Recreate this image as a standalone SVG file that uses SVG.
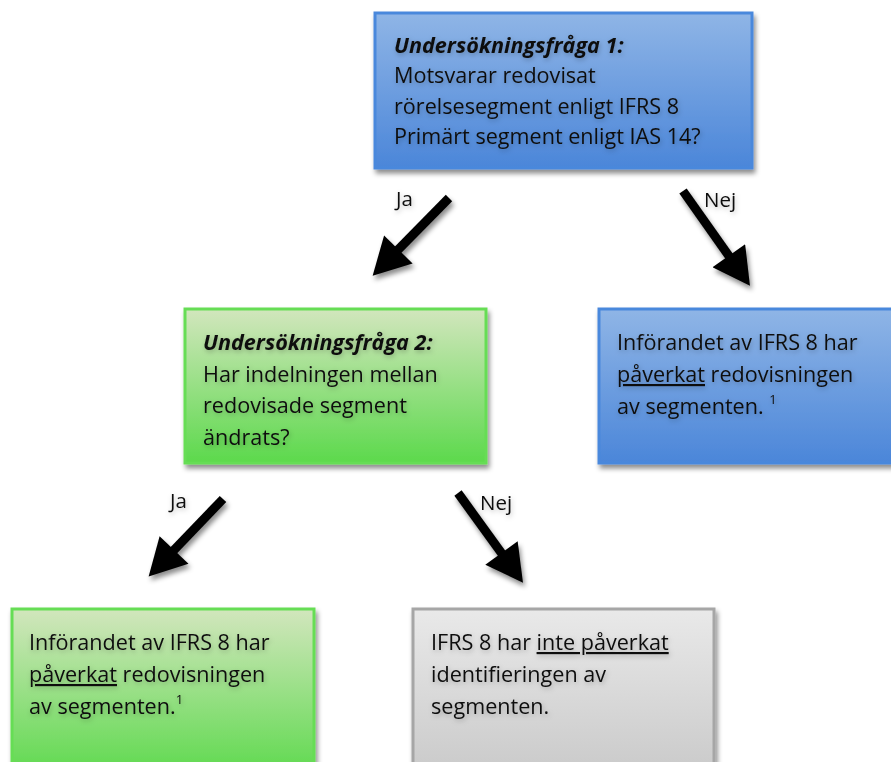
<svg xmlns="http://www.w3.org/2000/svg" width="891" height="762" viewBox="0 0 891 762">
<style>
text{font-family:"Open Sans",Lato,"Liberation Sans",sans-serif;font-size:21.6px;fill:#111}
.bi{font-weight:bold;font-style:italic}
.lbl{font-size:20.5px}
.sup{font-size:13px}
.u{text-decoration:underline}
.conn line{stroke:#000;stroke-width:9}
</style>
<defs>
<linearGradient id="gBlue" x1="0" y1="0" x2="0" y2="1"><stop offset="0" stop-color="#8fb5e6"/><stop offset="1" stop-color="#4b86d9"/></linearGradient>
<linearGradient id="gGreen" x1="0" y1="0" x2="0" y2="1"><stop offset="0" stop-color="#d2e6bd"/><stop offset="1" stop-color="#5cd94c"/></linearGradient>
<linearGradient id="gGrey" x1="0" y1="0" x2="0" y2="1"><stop offset="0" stop-color="#e9e9e9"/><stop offset="1" stop-color="#c9c9c9"/></linearGradient>
<filter id="sh" x="-10%" y="-10%" width="125%" height="130%"><feDropShadow dx="2" dy="4" stdDeviation="2.5" flood-color="#000" flood-opacity="0.45"/></filter>
<filter id="tsh" x="-10%" y="-30%" width="120%" height="160%"><feDropShadow dx="1" dy="2" stdDeviation="2.5" flood-color="#000" flood-opacity="0.25"/></filter>
<marker id="ah" markerUnits="userSpaceOnUse" markerWidth="40" markerHeight="40" viewBox="0 0 34 36" refX="12" refY="18" orient="auto"><path d="M0,0 L33,18 L0,36 z" fill="#000"/></marker>
</defs>

<g class="conn" filter="url(#sh)">
<line x1="449" y1="198" x2="389" y2="259" marker-end="url(#ah)"/>
<line x1="683" y1="191" x2="736.5" y2="266.7" marker-end="url(#ah)"/>
<line x1="223" y1="499" x2="164.8" y2="559.6" marker-end="url(#ah)"/>
<line x1="458" y1="493" x2="509.3" y2="563.8" marker-end="url(#ah)"/>
</g>
<g id="labels" filter="url(#tsh)">
<text class="lbl" x="396" y="206">Ja</text>
<text class="lbl" x="704" y="207">Nej</text>
<text class="lbl" x="170" y="508">Ja</text>
<text class="lbl" x="480" y="510">Nej</text>
</g>

<g id="q1">
<rect x="375" y="13" width="377" height="155" fill="url(#gBlue)" stroke="#4a88dc" stroke-width="3" filter="url(#sh)"/>
<g filter="url(#tsh)">
<text class="bi" x="394" y="53">Undersökningsfråga 1:</text>
<text x="394" y="83">Motsvarar redovisat</text>
<text x="394" y="114">rörelsesegment enligt IFRS 8</text>
<text x="394" y="144">Primärt segment enligt IAS 14?</text>
</g>
</g>

<g id="r1">
<rect x="599" y="309" width="300" height="154" fill="url(#gBlue)" stroke="#4a88dc" stroke-width="3" filter="url(#sh)"/>
<g filter="url(#tsh)">
<text x="617" y="350">Införandet av IFRS 8 har</text>
<text x="617" y="382"><tspan class="u">påverkat</tspan> redovisningen</text>
<text x="617" y="414">av segmenten. <tspan class="sup" dy="-10">1</tspan></text>
</g>
</g>

<g id="q2">
<rect x="185" y="309" width="301" height="154" fill="url(#gGreen)" stroke="#66dd55" stroke-width="3" filter="url(#sh)"/>
<g filter="url(#tsh)">
<text class="bi" x="203" y="350">Undersökningsfråga 2:</text>
<text x="203" y="382">Har indelningen mellan</text>
<text x="203" y="413">redovisade segment</text>
<text x="203" y="445">ändrats?</text>
</g>
</g>

<g id="r2">
<rect x="12" y="609" width="302" height="170" fill="url(#gGreen)" stroke="#66dd55" stroke-width="3" filter="url(#sh)"/>
<g filter="url(#tsh)">
<text x="29" y="650">Införandet av IFRS 8 har</text>
<text x="29" y="682"><tspan class="u">påverkat</tspan> redovisningen</text>
<text x="29" y="714">av segmenten.<tspan class="sup" dy="-10">1</tspan></text>
</g>
</g>

<g id="r3">
<rect x="413" y="609" width="301" height="170" fill="url(#gGrey)" stroke="#a6a6a6" stroke-width="3" filter="url(#sh)"/>
<g filter="url(#tsh)">
<text x="431" y="650">IFRS 8 har <tspan class="u">inte påverkat</tspan></text>
<text x="431" y="682">identifieringen av</text>
<text x="431" y="714">segmenten.</text>
</g>
</g>
</svg>
